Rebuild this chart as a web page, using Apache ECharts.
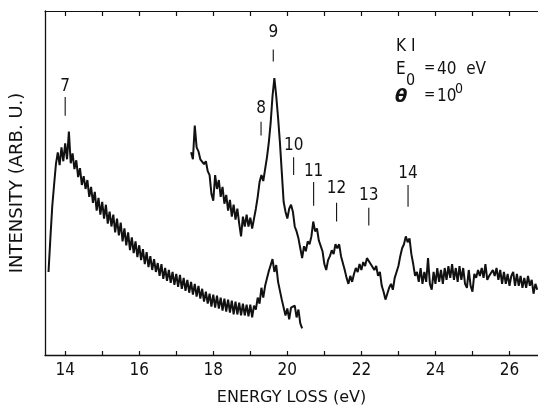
<!DOCTYPE html>
<html><head><meta charset="utf-8">
<script src="https://cdn.jsdelivr.net/npm/echarts@6/dist/echarts.min.js"></script>
<style>html,body{margin:0;padding:0;background:#fff}#c{width:538px;height:411px}</style>
</head><body><div id="c"></div><script>
// Energy sampling grid (eV)
const sampleStep = 0.05;
const lowerStart = 13.55;
const upperStart = 17.40;
// Lower spectrum intensities (arb. units), 13.55 .. 20.40 eV
const lowerI = [
84,118,150,172,193,205,192,210,196,214,
198,226,194,204,188,197,180,189,172,181,
168,177,160,170,154,165,146,159,142,155,
138,152,133,145,130,142,124,138,121,134,
115,128,111,124,106,119,103,115,99,111,
96,107,92,104,89,100,86,97,84,93,
80,92,77,88,75,86,73,84,71,82,
69,81,67,78,65,76,63,74,61,72,
59,70,57,67,54,64,52,62,49,61,
48,60,47,58,45,57,44,56,43,55,
41,54,41,53,40,52,40,51,39,51,
38,50,46,58,52,68,58,70,72,85,
84,97,84,91,74,72,56,54,40,47,
36,48,48,50,38,46,32,27];
// Upper spectrum intensities (arb. units), 17.40 .. 26.75 eV
const upperI = [
205,198,232,210,206,198,200,193,196,186,
182,163,156,182,168,177,160,170,153,162,
146,157,140,152,137,148,133,120,140,130,
142,130,139,128,138,148,160,175,182,176,
188,200,215,235,262,280,262,240,215,185,
155,145,138,148,152,145,130,125,118,108,
98,110,105,115,112,120,135,125,128,116,
118,105,92,86,96,100,106,102,112,108,
112,100,98,86,78,72,80,74,82,88,
84,92,86,94,90,98,96,92,94,86,
90,80,84,70,64,56,62,68,72,66,
78,84,90,100,108,112,120,114,118,102,
92,80,84,74,88,72,84,74,98,72,
66,84,72,88,74,86,72,88,76,90,
78,92,76,88,74,90,76,88,72,68,
86,70,64,82,78,86,80,88,78,92,
76,80,78,86,80,88,76,86,72,84,
72,82,70,80,84,70,82,70,80,68,
78,68,80,70,76,62,72,66];
// Axis ticks
const xTicks = [14,15,16,17,18,19,20,21,22,23,24,25,26];
const xTickLabels = [14,16,18,20,22,24,26];
// Peak annotations
const peakLabels = ['7','8','9','10','11','12','13','14'];
const peakE      = [14.0, 19.29, 19.62, 20.17, 20.71, 21.33, 22.2, 23.26];
const peakTickHi = [261, 236, 309, 200, 175, 154, 149, 172];
const peakTickLo = [242, 222, 297, 182, 151, 135, 131, 150];
const peakTextV  = [272, 249, 326, 212, 186, 168, 161, 184];

const toPairs = (start, vals) => vals.map((v, i) => [+(start + i * sampleStep).toFixed(2), v]);
const FONT = "'Liberation Sans Narrow','DejaVu Sans Condensed','DejaVu Sans',sans-serif";
const NAMEFONT = "'DejaVu Sans',sans-serif";
const INK = '#111';

const chart = echarts.init(document.getElementById('c'), null, {renderer: 'canvas'});
chart.setOption({
  animation: false,
  backgroundColor: '#fff',
  grid: {left: 42, right: 0, top: 11, bottom: 52, containLabel: false},
  xAxis: [{
    type: 'value', position: 'bottom', min: 13.455, max: 26.77,
    axisLine: {show: true, lineStyle: {color: INK, width: 1.3}},
    axisTick: {show: true, inside: true, length: 4, customValues: xTicks, lineStyle: {color: INK, width: 1.2}},
    axisLabel: {show: true, customValues: xTickLabels, margin: 7, fontSize: 17, color: INK, fontFamily: FONT},
    splitLine: {show: false},
    name: 'ENERGY LOSS (eV)', nameLocation: 'middle', nameGap: 35,
    nameTextStyle: {fontSize: 16, color: INK, fontFamily: NAMEFONT}
  }, {
    type: 'value', position: 'top', min: 13.455, max: 26.77,
    axisLine: {show: true, lineStyle: {color: INK, width: 1.1}},
    axisTick: {show: true, inside: true, length: 5, customValues: xTicks, lineStyle: {color: INK, width: 1.2}},
    axisLabel: {show: false},
    splitLine: {show: false}
  }],
  yAxis: {
    type: 'value', min: 0, max: 348,
    axisLine: {show: true, lineStyle: {color: INK, width: 1.3}},
    axisTick: {show: false}, axisLabel: {show: false}, splitLine: {show: false},
    name: 'INTENSITY (ARB. U.)', nameLocation: 'middle', nameGap: 19,
    nameTextStyle: {fontSize: 18, color: INK, fontFamily: NAMEFONT}
  },
  series: [{
    type: 'line', data: toPairs(lowerStart, lowerI), showSymbol: false, silent: true,
    lineStyle: {color: INK, width: 2}
  }, {
    type: 'line', data: toPairs(upperStart, upperI), showSymbol: false, silent: true,
    lineStyle: {color: INK, width: 2}
  }, {
    type: 'custom', silent: true,
    data: peakLabels.map((l, i) => [peakE[i], peakTickHi[i], peakTickLo[i], peakTextV[i], i]),
    renderItem: (params, api) => {
      const hi = api.coord([api.value(0), api.value(1)]);
      const lo = api.coord([api.value(0), api.value(2)]);
      const tp = api.coord([api.value(0), api.value(3)]);
      return {type: 'group', children: [
        {type: 'line', shape: {x1: hi[0], y1: hi[1], x2: lo[0], y2: lo[1]}, style: {stroke: INK, lineWidth: 1.1}},
        {type: 'text', x: tp[0], y: tp[1], style: {text: peakLabels[api.value(4)], fill: INK, font: '17px ' + FONT, align: 'center', verticalAlign: 'middle'}}
      ]};
    }
  }],
  graphic: [
    {type: 'text', left: 396, top: 38, style: {text: 'K I', fill: INK, font: '17px ' + FONT}},
    {type: 'text', left: 396, top: 61, style: {text: 'E', fill: INK, font: '17px ' + FONT}},
    {type: 'text', left: 406, top: 73, style: {text: '0', fill: INK, font: '16px ' + FONT}},
    {type: 'text', left: 424, top: 61, style: {text: '=', fill: INK, font: '15px ' + FONT}},
    {type: 'text', left: 437, top: 61, style: {text: '40  eV', fill: INK, font: '17px ' + FONT}},
    {type: 'text', left: 395, top: 88, style: {text: 'θ', fill: INK, font: 'italic bold 18px ' + NAMEFONT}},
    {type: 'text', left: 424, top: 88, style: {text: '=', fill: INK, font: '15px ' + FONT}},
    {type: 'text', left: 437, top: 88, style: {text: '10', fill: INK, font: '17px ' + FONT}},
    {type: 'text', left: 455, top: 82, style: {text: '0', fill: INK, font: '14px ' + FONT}}
  ]
});
</script></body></html>
